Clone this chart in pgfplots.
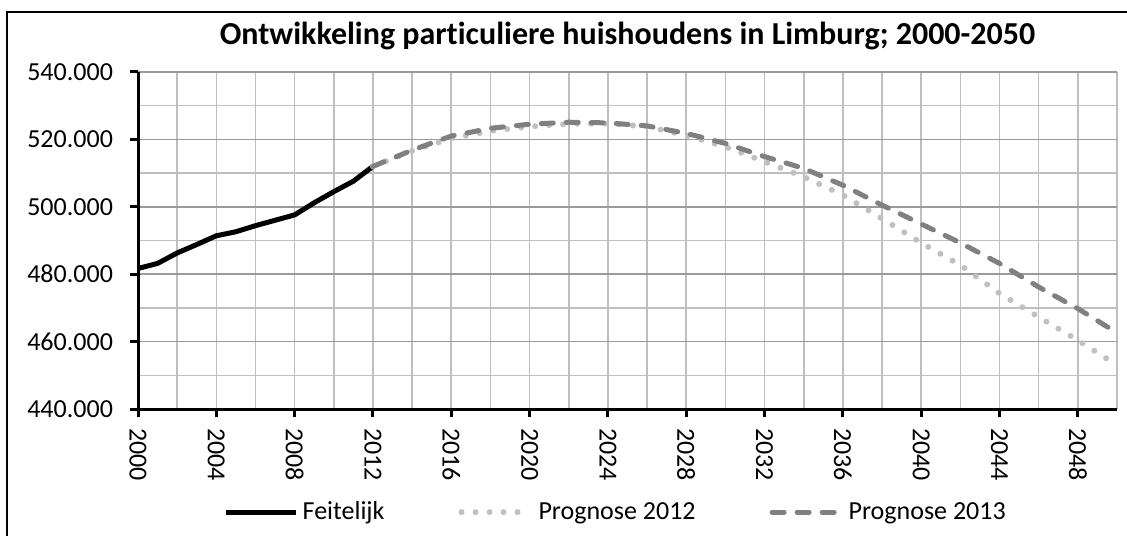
\documentclass[border=0pt]{standalone}
\usepackage{fontspec}
\setmainfont{Carlito}[Ligatures={NoCommon}]
\usepackage{pgfplots}
\usepackage{pgfplotstable}
\pgfplotsset{compat=1.18}

% Feitelijk (realised)
\pgfplotstableread{
year val
2000 481700
2001 483200
2002 486300
2003 488800
2004 491400
2005 492600
2006 494400
2007 496000
2008 497600
2009 501200
2010 504500
2011 507600
2012 512000
}\feitelijk

% Prognose 2012
\pgfplotstableread{
year val
2012 512000
2014 516600
2016 520300
2018 522500
2020 523800
2022 524600
2024 524700
2026 523800
2028 521200
2030 517800
2032 513400
2034 508900
2036 503500
2038 496500
2040 489300
2042 482700
2044 474300
2046 467300
2048 460400
2050 453000
}\progA

% Prognose 2013
\pgfplotstableread{
year val
2012 512000
2014 516800
2016 521000
2018 523300
2020 524500
2022 525100
2024 524900
2026 524000
2028 521800
2030 518800
2032 514900
2034 511400
2036 506400
2038 500500
2040 494900
2042 489300
2044 483200
2046 476200
2048 469800
2050 462600
}\progB

\definecolor{dotgray}{HTML}{C0C0C0}
\definecolor{dashgray}{HTML}{808080}
\definecolor{gridlight}{HTML}{BFBFBF}
\definecolor{griddark}{HTML}{9A9A9A}

\begin{document}
\begin{tikzpicture}
\useasboundingbox (0,0) rectangle (563.5pt,268pt);
\draw[line width=1pt] (3.5pt,0) -- (3.5pt,262pt) -- (563.5pt,262pt);
\begin{axis}[
    at={(69pt,63.5pt)}, anchor=south west,
    width=489.5pt, height=168.5pt, scale only axis,
    xmin=2000, xmax=2050,
    ymin=440000, ymax=540000,
    xtick distance=4, ytick distance=20000,
    minor x tick num=1, minor y tick num=1,
    grid=both,
    major x grid style={gridlight, line width=0.8pt},
    minor x grid style={gridlight, line width=0.8pt},
    major y grid style={griddark, line width=0.8pt},
    minor y grid style={gridlight, line width=0.8pt},
    axis x line*=bottom, axis y line*=left,
    axis line style={black, line width=1.5pt},
    tick align=outside, major tick length=4pt, minor tick length=0pt,
    tick style={black, line width=1.5pt},
    xtick pos=bottom, ytick pos=left,
    scaled y ticks=false, scaled x ticks=false,
    /pgf/number format/assume math mode=true,
    /pgf/number format/fixed, /pgf/number format/precision=0,
    xticklabel style={font=\fontsize{13}{15}\selectfont, rotate=-90, anchor=west,
        /pgf/number format/1000 sep={}, xshift=2pt},
    yticklabel style={font=\fontsize{13}{15}\selectfont,
        /pgf/number format/1000 sep={.}, xshift=-5pt},
    title={Ontwikkeling particuliere huishoudens in Limburg; 2000-2050},
    title style={font=\fontsize{16}{19}\selectfont\bfseries, at={(0.5,1.07)}, anchor=center},
    legend columns=3,
    legend style={at={(0.489,-0.306)}, anchor=center, draw=none, fill=none,
        font=\fontsize{13}{15}\selectfont,
        /tikz/every even column/.append style={column sep=35pt}},
    legend image code/.code={\draw[#1] (0pt,0pt) -- (35pt,0pt);},
]
\addplot[black, line width=2.5pt, line join=round] table[x=year,y=val]{\feitelijk};
\addlegendentry{Feitelijk}
\addplot[dotgray, line width=3pt, line cap=round, dash pattern=on 0pt off 7pt] table[x=year,y=val]{\progA};
\addlegendentry{Prognose 2012}
\addplot[dashgray, line width=2.5pt, line cap=round, dash pattern=on 6pt off 6.5pt] table[x=year,y=val]{\progB};
\addlegendentry{Prognose 2013}
\end{axis}
\end{tikzpicture}
\end{document}
